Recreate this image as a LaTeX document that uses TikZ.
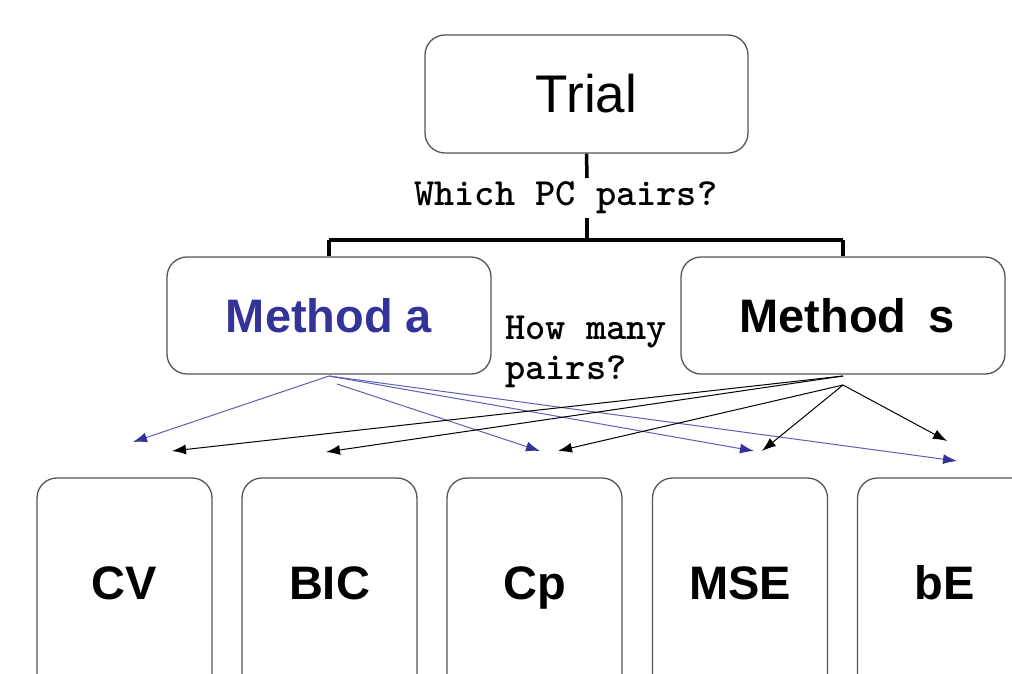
\documentclass[tikz,border=0pt]{standalone}
\usepackage{fontspec}
\setmainfont{Liberation Sans}
\usetikzlibrary{arrows.meta}
\definecolor{mblue}{RGB}{51,51,153}
\definecolor{lblue}{RGB}{95,95,180}
\definecolor{bordergray}{RGB}{85,85,85}
\begin{document}
\begin{tikzpicture}[x=1pt,y=-1pt,
  box/.style={draw=bordergray,line width=1.3pt,rounded corners=20pt,fill=white,inner sep=0pt},
  tree/.style={line width=3.5pt,black},
  qtext/.style={font=\ttfamily\bfseries\fontsize{38.5}{40}\selectfont,align=left,inner sep=0pt},
  lbl/.style={font=\bfseries\fontsize{47}{52}\selectfont,inner sep=0pt},
  barrow/.style={line width=1pt,lblue,-{Latex[length=14pt,width=10pt,color=mblue]}},
  karrow/.style={line width=1pt,black,-{Latex[length=14pt,width=10pt]}}]
\useasboundingbox (0,0) rectangle (1012,673);
\clip (0,0) rectangle (1012,673);
\fill[white] (0,0) rectangle (1012,673);
% top boxes
\node[box,minimum width=323pt,minimum height=118pt,font=\fontsize{53}{58}\selectfont] (trial) at (586.5,94) {Trial};
\node[box,minimum width=324pt,minimum height=117pt,lbl,text=mblue] (ma) at (329,315.5) {Method a};
\node[box,minimum width=324pt,minimum height=117pt,lbl] (ms) at (843,315.5) {\hspace*{8pt}Method\hspace{22pt}s};
% tree
\coordinate (t1) at (587,178);
\coordinate (t2) at (587,218);
\coordinate (hj) at (587,240);
\coordinate (hl) at (329,240);
\coordinate (hr) at (843,240);
\draw[tree] (trial.south) -- (t1);
\draw[tree] (t2) -- (hj);
\draw[tree] (hl) -- (hr);
\draw[tree] (hl) -- (ma.north);
\draw[tree] (hr) -- (ms.north);
\node[qtext,anchor=base west] (q1) at (414,205) {Which PC pairs?};
\node[qtext,anchor=base west] (q2) at (505,339) {How many};
\node[qtext,anchor=base west] (q3) at (505,379) {pairs?};
% bottom boxes
\node[box,minimum width=175pt,minimum height=250pt] (cvb) at (124.5,603) {};
\node[box,minimum width=175pt,minimum height=250pt] (bicb) at (329.5,603) {};
\node[box,minimum width=175pt,minimum height=250pt] (cpb) at (534.5,603) {};
\node[box,minimum width=175pt,minimum height=250pt] (mseb) at (740,603) {};
\node[box,minimum width=175pt,minimum height=250pt] (beb) at (945,603) {};
\node[lbl,anchor=base] (cv) at (124.5,599) {CV};
\node[lbl,anchor=base] (bic) at (329.5,599) {BIC};
\node[lbl,anchor=base] (cp) at (534.5,599) {Cp};
\node[lbl,anchor=base] (mse) at (740,599) {MSE};
\node[lbl,anchor=base] (be) at (945,599) {bE};
% arrow endpoints
\coordinate (sa1) at (329,376);
\coordinate (sa2) at (337,384);
\coordinate (ss1) at (843,376);
\coordinate (ss2) at (843,385);
\coordinate (bcv) at (133,442);
\coordinate (bcp) at (540,451);
\coordinate (bmse) at (754,451);
\coordinate (bbe) at (957,461);
\coordinate (kcv) at (172,451);
\coordinate (kbic) at (326,452);
\coordinate (kcp) at (558,451);
\coordinate (kmse) at (762,451);
\coordinate (kbe) at (947,441);
\draw[barrow] (sa1) -- (bcv);
\draw[barrow] (sa2) -- (bcp);
\draw[barrow] (sa1) -- (bmse);
\draw[barrow] (sa1) -- (bbe);
\draw[karrow] (ss1) -- (kcv);
\draw[karrow] (ss1) -- (kbic);
\draw[karrow] (ss2) -- (kcp);
\draw[karrow] (ss2) -- (kmse);
\draw[karrow] (ss2) -- (kbe);
\end{tikzpicture}
\end{document}
